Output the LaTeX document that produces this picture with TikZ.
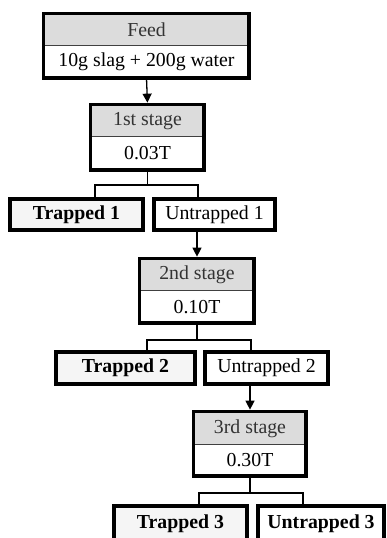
\documentclass[tikz,border=0pt]{standalone}
\usepackage{fontspec}
\setmainfont{Liberation Serif}
\usetikzlibrary{arrows.meta}
\definecolor{hdrgray}{HTML}{DCDCDC}
\definecolor{trapfill}{HTML}{F5F5F5}
\newcommand{\fsz}{\fontsize{19.8}{22}\selectfont}
\tikzset{
  hdr/.style={fill=hdrgray, draw=black!75, line width=1.2pt, inner sep=0pt, text=black!80, font=\fsz},
  valcell/.style={fill=white, inner sep=0pt, font=\fsz},
  outerbox/.style={draw=black, line width=3.5pt},
  resbox/.style={draw=black, line width=3.5pt, inner sep=0pt, font=\fsz},
  conn/.style={draw=black, line width=1.3pt},
  arr/.style={conn, -{Triangle[length=9pt,width=9pt]}, shorten >=1.75pt}
}
\begin{document}
\begin{tikzpicture}[x=1pt,y=-1pt]
\useasboundingbox (0,0) rectangle (387,538);
\fill[white] (0,0) rectangle (387,538);
% Feed
\node[hdr, minimum width=205pt, minimum height=32pt] (feedh) at (146.5,30) {Feed};
\node[valcell, minimum width=205pt, minimum height=32pt] (feedv) at (146.5,62) {10g slag + 200g water};
\draw[outerbox] (feedh.north west) rectangle (feedv.south east);
% Stage 1
\node[hdr, minimum width=113pt, minimum height=32pt] (s1h) at (147.5,121) {1st stage};
\node[valcell, minimum width=113pt, minimum height=33pt] (s1v) at (147.5,153.5) {0.03T};
\draw[outerbox] (s1h.north west) rectangle (s1v.south east);
% Results 1
\node[resbox, fill=trapfill, minimum width=133pt, minimum height=31pt, font=\fsz\bfseries] (t1) at (76.5,214.5) {Trapped 1};
\node[resbox, fill=white, minimum width=121pt, minimum height=31pt] (u1) at (214.5,214.5) {Untrapped 1};
% Stage 2
\node[hdr, minimum width=114pt, minimum height=32pt] (s2h) at (197,275) {2nd stage};
\node[valcell, minimum width=114pt, minimum height=32pt] (s2v) at (197,307) {0.10T};
\draw[outerbox] (s2h.north west) rectangle (s2v.south east);
% Results 2
\node[resbox, fill=trapfill, minimum width=139pt, minimum height=32pt, font=\fsz\bfseries] (t2) at (125.5,368) {Trapped 2};
\node[resbox, fill=white, minimum width=123pt, minimum height=32pt] (u2) at (266.5,368) {Untrapped 2};
% Stage 3
\node[hdr, minimum width=112pt, minimum height=33pt] (s3h) at (250,428.5) {3rd stage};
\node[valcell, minimum width=112pt, minimum height=31pt] (s3v) at (250,460.5) {0.30T};
\draw[outerbox] (s3h.north west) rectangle (s3v.south east);
% Results 3
\node[resbox, fill=trapfill, minimum width=133pt, minimum height=36pt, font=\fsz\bfseries] (t3) at (180.5,524) {Trapped 3};
\node[resbox, fill=white, minimum width=126pt, minimum height=36pt, font=\fsz\bfseries] (u3) at (321,524) {Untrapped 3};
% Connectors
\draw[arr] (feedv.south) -- (s1h.north);
\coordinate (b1) at (147.5,185);
\draw[conn] (s1v.south) -- (b1);
\draw[conn] ([xshift=18.5pt,yshift=-1.75pt]t1.north) |- (b1) -| ([xshift=-16.5pt,yshift=-1.75pt]u1.north);
\draw[arr] (u1.south -| s2h.north) -- (s2h.north);
\coordinate (b2) at (197,340);
\draw[conn] (s2v.south) -- (b2);
\draw[conn] ([xshift=21.5pt,yshift=-1.75pt]t2.north) |- (b2) -| ([xshift=-15.5pt,yshift=-1.75pt]u2.north);
\draw[arr] (u2.south -| s3h.north) -- (s3h.north);
\coordinate (b3) at (250,493);
\draw[conn] (s3v.south) -- (b3);
\draw[conn] ([xshift=18.5pt,yshift=-1.75pt]t3.north) |- (b3) -| ([xshift=-18pt,yshift=-1.75pt]u3.north);
\end{tikzpicture}
\end{document}
